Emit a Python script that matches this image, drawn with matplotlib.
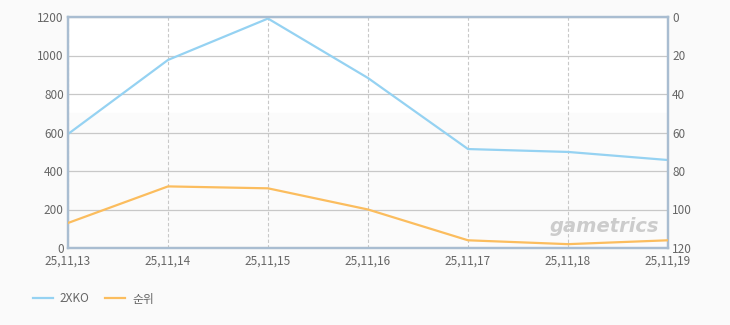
import matplotlib
matplotlib.use('Agg')
import matplotlib.pyplot as plt

plt.rcParams['font.family'] = ['Noto Sans CJK KR', 'DejaVu Sans']

dates = ['25,11,13', '25,11,14', '25,11,15', '25,11,16', '25,11,17', '25,11,18', '25,11,19']
viewers = [592, 977, 1192, 883, 514, 499, 457]
rank = [107, 88, 89, 100, 116, 118, 116]

blue = '#95d2f2'
orange = '#fbbd5e'
frame = '#a9bdd1'
text_c = '#666666'

fig = plt.figure(figsize=(7.3, 3.25), dpi=100, facecolor='#fafafa')
ax = fig.add_axes([68 / 730, 1 - 248 / 325, 600 / 730, 231 / 325])
ax.set_facecolor('white')
ax.axhspan(0, 700, color='#fbfbfb', zorder=0)

x = list(range(len(dates)))
ax.plot(x, viewers, color=blue, lw=1.6, zorder=3, label='2XKO')
ax.set_xlim(0, len(dates) - 1)
ax.set_ylim(0, 1200)
ax.set_yticks(range(0, 1201, 200))
ax.set_xticks(x)
ax.set_xticklabels(dates)
ax.yaxis.grid(True, color='#c8c8c8', lw=0.9, zorder=1)
ax.xaxis.grid(True, color='#c8c8c8', lw=0.8, ls=(0, (3, 2)), zorder=1)
ax.tick_params(axis='y', length=0, labelsize=8.5, colors=text_c, pad=3)
ax.tick_params(axis='x', length=0, labelsize=8.5, colors=text_c, pad=5)
for s in ax.spines.values():
    s.set_color(frame)
    s.set_linewidth(1.6)

ax2 = ax.twinx()
ax2.plot(x, rank, color=orange, lw=1.6, zorder=3, label='순위')
ax2.set_ylim(120, 0)
ax2.set_yticks(range(0, 121, 20))
ax2.tick_params(length=0, labelsize=8.5, colors=text_c, pad=3)
for s in ax2.spines.values():
    s.set_color(frame)
    s.set_linewidth(1.6)

ax.text(0.985, 0.095, 'gametrics', transform=ax.transAxes, ha='right', va='center',
        fontsize=14, fontweight='bold', style='italic', color='#cccccc', zorder=2,
        family='DejaVu Sans')

h1, l1 = ax.get_legend_handles_labels()
h2, l2 = ax2.get_legend_handles_labels()
fig.legend(h1 + h2, l1 + l2, loc='center left', bbox_to_anchor=(22 / 730, 1 - 299 / 325),
           ncol=2, frameon=False, fontsize=8.5, labelcolor=text_c, handlelength=1.7,
           handletextpad=0.6, columnspacing=1.3)

fig.savefig('out.png', dpi=100, facecolor=fig.get_facecolor())
